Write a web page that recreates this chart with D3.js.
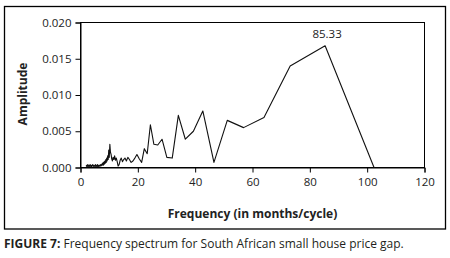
<!DOCTYPE html>
<html><head><meta charset="utf-8">
<script src="https://cdn.jsdelivr.net/npm/d3@7"></script>
<style>
html,body{margin:0;padding:0;background:#fff;}
svg{display:block;font-family:"Open Sans",sans-serif;}
</style></head>
<body><svg id="c" width="450" height="258"></svg>
<script>
// Period (months/cycle) and amplitude
const periods = [102.4, 85.33, 73.14, 64, 56.89, 51.2, 46.55, 42.67, 39.38, 36.57, 34.13, 32, 30.12, 28.44, 26.95, 25.6, 24.38, 23.27, 22.26, 21.33, 20.48, 19.69, 18.96, 18.29, 17.66, 17.07, 16.52, 16.0, 15.52, 15.06, 14.63, 14.22, 13.84, 13.47, 13.13, 12.8, 12.49, 12.19, 11.91, 11.64, 11.38, 11.13, 10.89, 10.67, 10.45, 10.24, 10.04, 9.85, 9.66, 9.48, 9.31, 9.14, 8.98, 8.83, 8.68, 8.53, 8.39, 8.26, 8.13, 8.0, 7.88, 7.76, 7.64, 7.53, 7.42, 7.31, 7.11, 6.92, 6.74, 6.56, 6.4, 6.24, 6.1, 5.95, 5.82, 5.69, 5.57, 5.45, 5.33, 5.22, 5.12, 4.92, 4.74, 4.57, 4.41, 4.27, 4.13, 4.0, 3.82, 3.66, 3.5, 3.37, 3.24, 3.12, 3.0, 2.84, 2.69, 2.56, 2.44, 2.33, 2.23, 2.13, 2.05, 2.0];
const amplitudes = [0, 0.0168, 0.0140, 0.0069, 0.0055, 0.0065, 0.0007, 0.0078, 0.0050, 0.0039, 0.0072, 0.0013, 0.0014, 0.0039, 0.0031, 0.0032, 0.0059, 0.0019, 0.0026, 0.0007, 0.0012, 0.0018, 0.0013, 0.0009, 0.0007, 0.0011, 0.0014, 0.0009, 0.0013, 0.0011, 0.0008, 0.0013, 0.0010, 0.0004, 0.0002, 0.0008, 0.0013, 0.0010, 0.0016, 0.0011, 0.0014, 0.0009, 0.0012, 0.0018, 0.0021, 0.0032, 0.0014, 0.0024, 0.0011, 0.0016, 0.0009, 0.0013, 0.0007, 0.0011, 0.0006, 0.0009, 0.0005, 0.0008, 0.0004, 0.0007, 0.0003, 0.0006, 0.0004, 0.0005, 0.0003, 0.0004, 0.0002, 0.0004, 0.0002, 0.0003, 0.0001, 0.0003, 0.0002, 0.0004, 0.0001, 0.0003, 0.0002, 0.0003, 0.0001, 0.0004, 0.0002, 0.0003, 0.0001, 0.0003, 0.0002, 0.0004, 0.0002, 0.0003, 0.0001, 0.0003, 0.0002, 0.0004, 0.0001, 0.0003, 0.0002, 0.0003, 0.0001, 0.0004, 0.0002, 0.0003, 0.0001, 0.0003, 0.0002, 0.0003];
const xTicks = [0, 20, 40, 60, 80, 100, 120];
const yTicks = [0, 0.005, 0.010, 0.015, 0.020];
const peakLabel = "85.33";
const xTitle = "Frequency (in months/cycle)";
const yTitle = "Amplitude";
const captionBold = "FIGURE 7:";
const captionText = " Frequency spectrum for South African small house price gap.";

const svg = d3.select("#c");
const x = d3.scaleLinear().domain([0, 120]).range([80.5, 424.5]);
const y = d3.scaleLinear().domain([0, 0.02]).range([167.5, 22.5]);

// outer frame
svg.append("rect").attr("x", 4.5).attr("y", 6.5).attr("width", 441).attr("height", 222.5)
  .attr("fill", "none").attr("stroke", "#000").attr("stroke-width", 1.3);

// plot frame
svg.append("rect").attr("x", x(0)).attr("y", y(0.02)).attr("width", x(120) - x(0)).attr("height", y(0) - y(0.02))
  .attr("fill", "none").attr("stroke", "#000").attr("stroke-width", 1);

const xAxis = svg.append("g").attr("transform", `translate(0,${y(0)})`)
  .call(d3.axisBottom(x).tickValues(xTicks).tickSize(5).tickPadding(5).tickFormat(d3.format("d")));
const yAxis = svg.append("g").attr("transform", `translate(${x(0)},0)`)
  .call(d3.axisLeft(y).tickValues(yTicks).tickSize(5).tickPadding(4).tickFormat(d3.format(".3f")));
[xAxis, yAxis].forEach(g => {
  g.select(".domain").attr("stroke", "#000").attr("stroke-width", 1);
  g.selectAll(".tick line").attr("stroke", "#000");
  g.selectAll(".tick text").attr("fill", "#222").style("font-size", "11.5px").style("font-family", "'Open Sans',sans-serif");
});

const data = periods.map((p, i) => ({p, a: amplitudes[i]}));
svg.append("path").datum(data)
  .attr("fill", "none").attr("stroke", "#111").attr("stroke-width", 1.1).attr("stroke-linejoin", "round")
  .attr("d", d3.line().x(d => x(d.p)).y(d => y(d.a)));

const peak = data.reduce((m, d) => d.a > m.a ? d : m, data[0]);
svg.append("text").attr("x", x(peak.p) + 2).attr("y", y(peak.a) - 8)
  .attr("text-anchor", "middle").style("font-size", "11.5px").attr("fill", "#222").text(peakLabel);

svg.append("text").attr("x", (x(0) + x(120)) / 2).attr("y", 217.5)
  .attr("text-anchor", "middle").style("font-size", "12px").style("font-weight", "bold").attr("fill", "#222").text(xTitle);

svg.append("text").attr("transform", `translate(27,94) rotate(-90)`)
  .attr("text-anchor", "middle").style("font-size", "12px").style("font-weight", "bold").attr("fill", "#222").text(yTitle);

const cap = svg.append("text").attr("x", 4).attr("y", 247.5).style("font-size", "12px").attr("fill", "#231f20");
cap.append("tspan").style("font-weight", "bold").text(captionBold);
cap.append("tspan").text(captionText);
</script></body></html>
